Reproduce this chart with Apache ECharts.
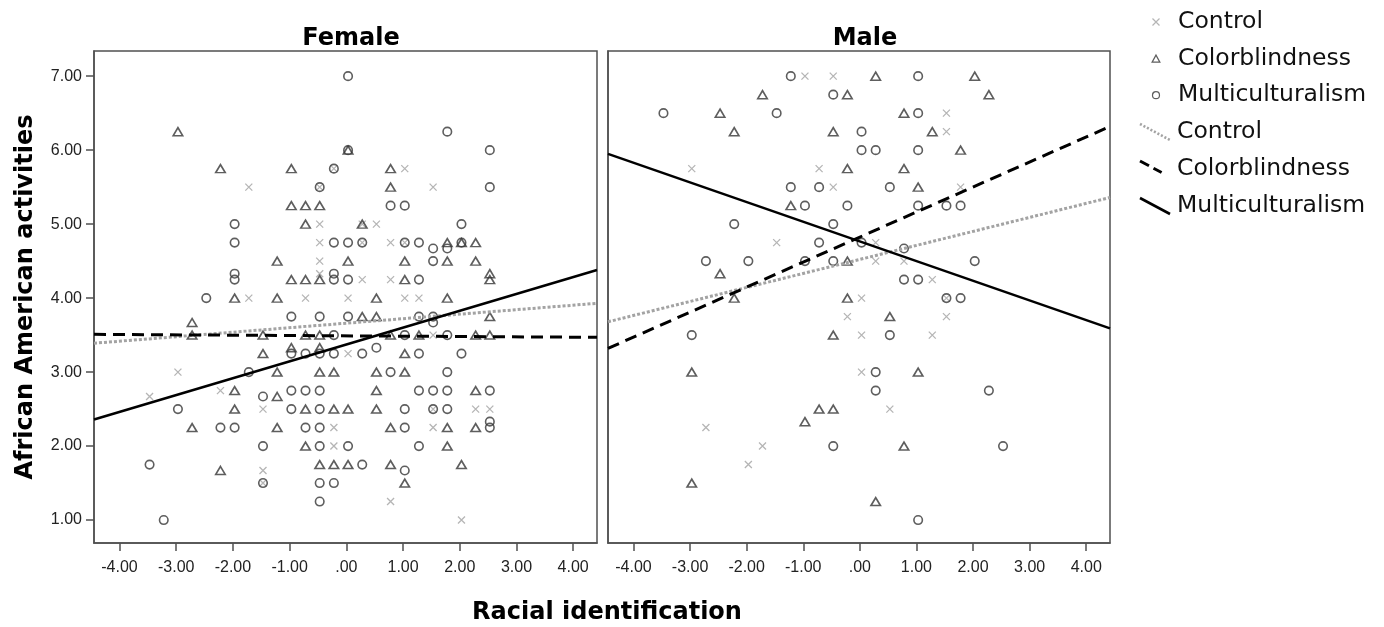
<!DOCTYPE html>
<html>
<head>
<meta charset="utf-8">
<title>African American activities by racial identification</title>
<script src="https://cdn.jsdelivr.net/npm/echarts@6/dist/echarts.min.js"></script>
<style>
  html, body { margin: 0; padding: 0; background: #ffffff; }
  #chart { width: 1384px; height: 627px; }
</style>
</head>
<body>
<div id="chart"></div>
<script>
// Panels and conditions
const panels = ['Female', 'Male'];
const conditions = ['Control', 'Colorblindness', 'Multiculturalism'];
const xTicks = [-4, -3, -2, -1, 0, 1, 2, 3, 4];
const yTicks = [1, 2, 3, 4, 5, 6, 7];

// Female: [racial identification, activities]
const femaleControl = [
  [-1.72,5.5],[-0.47,5.5],[-0.22,5.75],[-0.47,5.0],[-0.47,4.75],[-0.47,4.5],[-0.47,4.33],
  [1.03,5.75],[1.53,5.5],[0.53,5.0],[0.28,5.0],[0.28,4.75],[0.78,4.75],[1.03,4.75],[0.28,4.25],[0.78,4.25],
  [0.03,4.0],[1.03,4.0],[1.28,4.0],[1.53,3.5],[0.03,3.25],[1.53,2.5],[2.28,2.5],[2.53,2.5],[1.53,2.25],
  [0.78,1.25],[2.03,1.0],[-1.72,4.0],[-0.72,4.0],[-2.97,3.0],[-3.47,2.67],[-2.22,2.75],[-1.47,2.5],
  [-0.22,2.25],[-0.22,2.0],[-1.47,1.67],[-1.47,1.5]
];
const femaleColorblind = [
  [-2.97,6.25],[-2.22,5.75],[-0.97,5.75],[-0.97,5.25],[-0.72,5.25],[-0.47,5.25],[-0.72,5.0],[-1.22,4.5],
  [0.03,4.5],[-0.97,4.25],[-0.72,4.25],[-0.47,4.25],[0.03,6.0],
  [0.78,5.75],[0.78,5.5],[0.28,5.0],[1.78,4.75],[2.03,4.75],[2.28,4.75],[1.03,4.5],[1.78,4.5],[2.28,4.5],
  [1.03,4.25],[2.53,4.33],[2.53,4.25],
  [0.53,4.0],[1.78,4.0],[0.28,3.75],[0.53,3.75],[2.53,3.75],[0.78,3.5],[1.28,3.5],[2.28,3.5],[2.53,3.5],
  [1.03,3.25],[0.53,3.0],[1.03,3.0],[0.53,2.75],[2.28,2.75],[0.03,2.5],[0.53,2.5],[0.78,2.25],[1.78,2.25],
  [2.28,2.25],[1.78,2.0],[0.03,1.75],[0.78,1.75],[2.03,1.75],[1.03,1.5],
  [-1.97,4.0],[-1.22,4.0],[-2.72,3.67],[-2.72,3.5],[-1.47,3.5],[-0.72,3.5],[-0.47,3.5],[-0.97,3.33],
  [-0.47,3.33],[-1.47,3.25],[-1.22,3.0],[-0.47,3.0],[-0.22,3.0],[-1.97,2.75],[-1.22,2.67],[-1.97,2.5],
  [-0.72,2.5],[-0.22,2.5],[-2.72,2.25],[-1.22,2.25],[-0.72,2.0],[-2.22,1.67],[-0.47,1.75],[-0.22,1.75]
];
const femaleMulti = [
  [0.03,7.0],[-0.22,5.75],[-0.47,5.5],[-1.97,5.0],[-1.97,4.75],[-0.22,4.75],[0.03,4.75],[-1.97,4.33],
  [-1.97,4.25],[-0.22,4.33],[-0.22,4.25],[0.03,6.0],
  [1.78,6.25],[2.53,6.0],[0.78,5.25],[1.03,5.25],[2.53,5.5],[2.03,5.0],[0.28,4.75],[1.03,4.75],[1.28,4.75],
  [1.53,4.67],[1.78,4.67],[2.03,4.75],[1.53,4.5],[0.03,4.25],[1.28,4.25],
  [0.03,3.75],[1.28,3.75],[1.53,3.75],[1.53,3.67],[1.03,3.5],[1.78,3.5],[0.53,3.33],[0.28,3.25],[1.28,3.25],
  [2.03,3.25],[0.78,3.0],[1.78,3.0],[1.28,2.75],[1.53,2.75],[1.78,2.75],[2.53,2.75],[1.03,2.5],[1.53,2.5],
  [1.78,2.5],[2.53,2.33],[1.03,2.25],[2.53,2.25],[0.03,2.0],[1.28,2.0],[0.28,1.75],[1.03,1.67],
  [-2.47,4.0],[-0.97,3.75],[-0.47,3.75],[-0.22,3.5],[-0.97,3.25],[-0.72,3.25],[-0.47,3.25],[-0.22,3.25],
  [-1.72,3.0],[-1.47,2.67],[-0.97,2.75],[-0.72,2.75],[-0.47,2.75],[-2.97,2.5],[-0.97,2.5],[-0.47,2.5],
  [-2.22,2.25],[-1.97,2.25],[-0.72,2.25],[-0.47,2.25],[-1.47,2.0],[-0.47,2.0],[-3.47,1.75],[-1.47,1.5],
  [-0.47,1.5],[-0.22,1.5],[-0.47,1.25],[-3.22,1.0]
];

// Male: [racial identification, activities]
const maleControl = [
  [-0.97,7.0],[-0.47,7.0],[1.53,6.5],[1.53,6.25],[-2.97,5.75],[-0.72,5.75],[-0.47,5.5],[1.78,5.5],
  [-1.47,4.75],[0.28,4.75],[0.28,4.5],[0.78,4.5],[1.28,4.25],[0.03,4.0],[1.53,4.0],[-0.22,3.75],[1.53,3.75],
  [0.03,3.5],[1.28,3.5],[0.03,3.0],[0.53,2.5],[-2.72,2.25],[-1.72,2.0],[-1.97,1.75]
];
const maleColorblind = [
  [-1.72,6.75],[-0.22,6.75],[-2.47,6.5],[-2.22,6.25],[-0.47,6.25],[-0.22,5.75],[-1.22,5.25],[-0.22,4.5],
  [-2.47,4.33],[-2.22,4.0],[-0.22,4.0],[-0.47,3.5],[-2.97,3.0],[-0.72,2.5],[-0.47,2.5],[-0.97,2.33],[-2.97,1.5],
  [0.28,7.0],[2.03,7.0],[2.28,6.75],[0.78,6.5],[1.28,6.25],[1.78,6.0],[0.78,5.75],[1.03,5.5],[0.53,3.75],
  [1.03,3.0],[0.78,2.0],[0.28,1.25]
];
const maleMulti = [
  [-1.22,7.0],[-0.47,6.75],[-3.47,6.5],[-1.47,6.5],[0.03,6.25],[0.03,6.0],[-1.22,5.5],[-0.72,5.5],
  [-0.97,5.25],[-0.22,5.25],[-2.22,5.0],[-0.47,5.0],[-0.72,4.75],[0.03,4.75],[-2.72,4.5],[-1.97,4.5],
  [-0.97,4.5],[-0.47,4.5],[-2.97,3.5],[-0.47,2.0],
  [1.03,7.0],[1.03,6.5],[0.28,6.0],[1.03,6.0],[0.53,5.5],[1.03,5.25],[1.53,5.25],[1.78,5.25],[0.78,4.67],
  [2.03,4.5],[0.78,4.25],[1.03,4.25],[1.53,4.0],[1.78,4.0],[0.53,3.5],[0.28,3.0],[0.28,2.75],[2.28,2.75],
  [2.53,2.0],[1.03,1.0]
];

// Fitted lines: activities at the left and right edge of the x range
const xRange = [-4.45, 4.42];
const yRange = [0.69, 7.34];
const femaleFitControl = [3.39, 3.93];
const femaleFitColorblind = [3.51, 3.47];
const femaleFitMulti = [2.36, 4.38];
const maleFitControl = [3.68, 5.36];
const maleFitColorblind = [3.32, 6.32];
const maleFitMulti = [5.95, 3.59];

const points = [
  [femaleControl, femaleColorblind, femaleMulti],
  [maleControl, maleColorblind, maleMulti]
];
const fits = [
  [femaleFitControl, femaleFitColorblind, femaleFitMulti],
  [maleFitControl, maleFitColorblind, maleFitMulti]
];

const FIT = ' fit';
const frameColor = '#505050';
const crossColor = '#a3a3a3';
const markColor = '#363636';
const tickFont = { fontFamily: 'Liberation Sans', fontSize: 16, color: '#222222' };
const boldFont = { fontFamily: 'DejaVu Sans', fontWeight: 'bold', fontSize: 24, color: '#000000' };
const legendFont = { fontFamily: 'DejaVu Sans', fontSize: 23.5, color: '#111111', lineHeight: 24 };

const crossPath = 'path://M0,0L10,10M10,0L0,10';
const trianglePath = 'path://M5,0L10,9L0,9Z';

const markerStyles = [
  { symbol: crossPath, symbolSize: 7,
    itemStyle: { color: 'rgba(0,0,0,0)', borderColor: crossColor, borderWidth: 1.3 } },
  { symbol: 'triangle', symbolSize: [9.5, 8],
    itemStyle: { color: 'rgba(0,0,0,0)', borderColor: markColor, borderWidth: 1.6 } },
  { symbol: 'circle', symbolSize: 8.5,
    itemStyle: { color: 'rgba(0,0,0,0)', borderColor: markColor, borderWidth: 1.6 } }
];
const fitStyles = [
  { color: '#a3a3a3', width: 3, type: [3, 2] },
  { color: '#000000', width: 3, type: [12, 7] },
  { color: '#000000', width: 2.5, type: 'solid' }
];

// Legend glyphs for the fitted lines: short diagonal strokes in a 34x20 box
function bar(x1, y1, x2, y2, w) {
  const dx = x2 - x1, dy = y2 - y1, len = Math.hypot(dx, dy);
  const nx = -dy / len * w / 2, ny = dx / len * w / 2;
  const f = v => v.toFixed(2);
  return 'M' + f(x1 + nx) + ',' + f(y1 + ny) + 'L' + f(x2 + nx) + ',' + f(y2 + ny) +
         'L' + f(x2 - nx) + ',' + f(y2 - ny) + 'L' + f(x1 - nx) + ',' + f(y1 - ny) + 'Z';
}
function diagonalIcon(pieces, w) {
  const sx = 34, sy = 20;
  let d = 'M0,0M34,20';
  pieces.forEach(([a, b]) => { d += bar(2 + a * (sx - 4), 2 + a * (sy - 4), 2 + b * (sx - 4), 2 + b * (sy - 4), w); });
  return 'path://' + d;
}
const dotPieces = [];
for (let k = 0; k < 9; k++) dotPieces.push([k / 8.6, k / 8.6 + 0.06]);
const fitIcons = [
  diagonalIcon(dotPieces, 2.6),
  diagonalIcon([[0, 0.3], [0.45, 0.72]], 3),
  diagonalIcon([[0, 1]], 2.6)
];

const grids = [
  { left: 94, top: 51, width: 503, height: 492 },
  { left: 608, top: 51, width: 502, height: 492 }
].map(g => Object.assign(g, { show: true, borderColor: frameColor, borderWidth: 1.5, backgroundColor: 'transparent' }));

const xAxes = panels.map((p, i) => ({
  gridIndex: i, type: 'value', min: xRange[0], max: xRange[1],
  splitLine: { show: false },
  axisLine: { show: true, onZero: false, lineStyle: { color: frameColor, width: 1.5 } },
  axisTick: { show: true, customValues: xTicks, length: 8, lineStyle: { color: frameColor, width: 1.5 } },
  axisLabel: Object.assign({ customValues: xTicks, margin: 17,
    formatter: v => (Math.abs(v) < 1e-9 ? '.00' : v.toFixed(2)) }, tickFont)
}));
const yAxes = panels.map((p, i) => ({
  gridIndex: i, type: 'value', min: yRange[0], max: yRange[1],
  splitLine: { show: false },
  axisLine: { show: true, onZero: false, lineStyle: { color: frameColor, width: 1.5 } },
  axisTick: { show: i === 0, customValues: yTicks, length: 8, lineStyle: { color: frameColor, width: 1.5 } },
  axisLabel: Object.assign({ show: i === 0, customValues: yTicks, margin: 12, formatter: v => v.toFixed(2) }, tickFont),
  name: i === 0 ? 'African American activities' : '',
  nameLocation: 'middle', nameRotate: 90, nameGap: 56,
  nameTextStyle: boldFont
}));

const series = [];
panels.forEach((p, i) => {
  conditions.forEach((c, j) => {
    series.push(Object.assign({
      type: 'scatter', name: c, xAxisIndex: i, yAxisIndex: i,
      data: points[i][j], silent: true, z: 2
    }, markerStyles[j]));
  });
  conditions.forEach((c, j) => {
    series.push({
      type: 'line', name: c + FIT, xAxisIndex: i, yAxisIndex: i,
      data: [[xRange[0], fits[i][j][0]], [xRange[1], fits[i][j][1]]],
      symbol: 'none', silent: true, z: 3, clip: true,
      color: fitStyles[j].color,
      lineStyle: fitStyles[j]
    });
  });
});

const markerIcons = [crossPath, trianglePath, 'circle'];
const markerLegend = conditions.map((c, j) => ({
  name: c, icon: markerIcons[j],
  itemStyle: Object.assign({}, markerStyles[j].itemStyle, { borderWidth: 1.2 })
}));
const fitLegend = conditions.map((c, j) => ({
  name: c + FIT, icon: fitIcons[j],
  itemStyle: { color: fitStyles[j].color, borderWidth: 0 }
}));

const chart = echarts.init(document.getElementById('chart'), null, { renderer: 'canvas', width: 1384, height: 627 });
chart.setOption({
  animation: false,
  backgroundColor: '#ffffff',
  title: [
    { text: 'Female', left: 346, top: 22, textAlign: 'center', textStyle: boldFont },
    { text: 'Male', left: 860, top: 22, textAlign: 'center', textStyle: boldFont },
    { text: 'Racial identification', left: 602, top: 596, textAlign: 'center', textStyle: boldFont }
  ],
  legend: [
    {
      // marker glyphs sit in the middle of a 34px slot, so the box starts at the glyph
      orient: 'vertical', left: 1151.5, top: 10, padding: 0,
      itemWidth: 34, itemHeight: 7, itemGap: 12.6, selectedMode: false,
      data: markerLegend, textStyle: legendFont
    },
    {
      orient: 'vertical', left: 1138, top: 120, padding: 0,
      itemWidth: 34, itemHeight: 20, itemGap: 13, selectedMode: false,
      data: fitLegend, textStyle: legendFont,
      formatter: name => name.replace(FIT, '')
    }
  ],
  grid: grids,
  xAxis: xAxes,
  yAxis: yAxes,
  series: series
});
</script>
</body>
</html>
